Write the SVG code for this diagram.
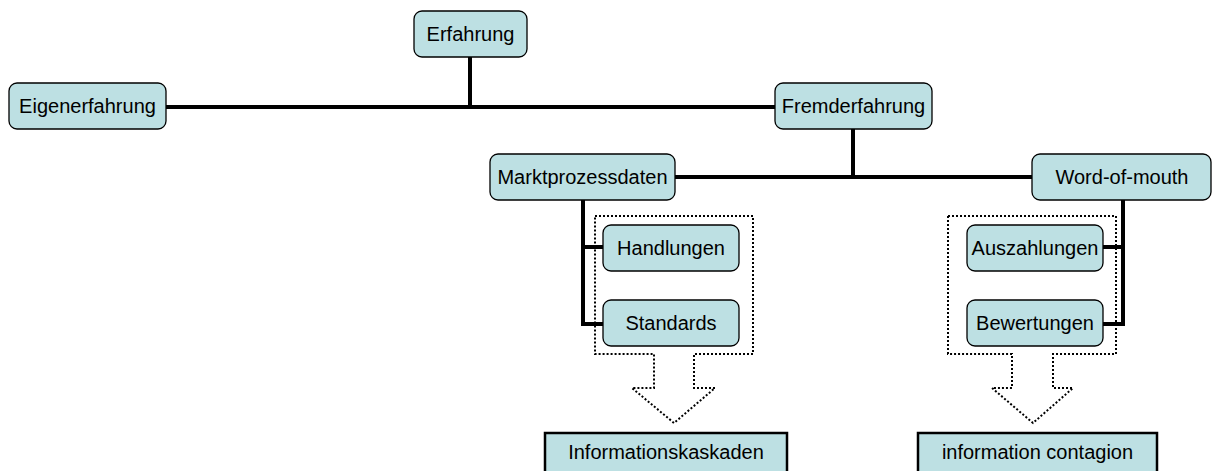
<svg xmlns="http://www.w3.org/2000/svg" width="1214" height="471" viewBox="0 0 1214 471">
<style>
.n rect{fill:#bde0e3;stroke:#000;stroke-width:1.3}
.b rect{fill:#bde0e3;stroke:#000;stroke-width:2.5}
text{font-family:"Liberation Sans",Arial,sans-serif;font-size:20px;fill:#000;text-anchor:middle}
.c line{stroke:#000;stroke-width:4;stroke-linecap:butt}
.d{fill:none;stroke:#000;stroke-width:2;stroke-dasharray:2 2}
</style>
<rect width="1214" height="471" fill="#fff"/>
<g id="connectors" class="c">
<line x1="166" y1="107" x2="775" y2="107"/>
<line x1="470" y1="57" x2="470" y2="109"/>
<line x1="853" y1="129" x2="853" y2="179"/>
<line x1="675" y1="177" x2="1032" y2="177"/>
<line x1="583" y1="200" x2="583" y2="326"/>
<line x1="581" y1="247" x2="603" y2="247"/>
<line x1="581" y1="324" x2="603" y2="324"/>
<line x1="1123" y1="200" x2="1123" y2="326"/>
<line x1="1103" y1="247" x2="1125" y2="247"/>
<line x1="1103" y1="324" x2="1125" y2="324"/>
</g>
<g id="group-left-arrow">
<path class="d" d="M595,216 H753 V354 H694 V388 H715 L674,423 L632,388 H654 V354 H595 Z"/>
</g>
<g id="group-right-arrow">
<path class="d" d="M948,216 H1116 V354 H1053 V388 H1073 L1033,423 L992,388 H1012 V354 H948 Z"/>
</g>
<g id="erfahrung" class="n"><rect x="414" y="11" width="113" height="46" rx="8"/><text x="470.5" y="41">Erfahrung</text></g>
<g id="eigenerfahrung" class="n"><rect x="9" y="83" width="157" height="46" rx="8"/><text x="87.5" y="113">Eigenerfahrung</text></g>
<g id="fremderfahrung" class="n"><rect x="775" y="83" width="157" height="46" rx="8"/><text x="853.5" y="113">Fremderfahrung</text></g>
<g id="marktprozessdaten" class="n"><rect x="490" y="154" width="185" height="46" rx="8"/><text x="582.5" y="184">Marktprozessdaten</text></g>
<g id="word-of-mouth" class="n"><rect x="1032" y="154" width="179" height="46" rx="8"/><text x="1122" y="184">Word-of-mouth</text></g>
<g id="handlungen" class="n"><rect x="603" y="225" width="136" height="46" rx="8"/><text x="671" y="255">Handlungen</text></g>
<g id="standards" class="n"><rect x="603" y="300" width="136" height="46" rx="8"/><text x="671" y="330">Standards</text></g>
<g id="auszahlungen" class="n"><rect x="967" y="225" width="136" height="46" rx="8"/><text x="1035" y="255">Auszahlungen</text></g>
<g id="bewertungen" class="n"><rect x="967" y="300" width="136" height="46" rx="8"/><text x="1035" y="330">Bewertungen</text></g>
<g id="informationskaskaden" class="b"><rect x="545" y="433" width="242" height="50"/><text x="666" y="459">Informationskaskaden</text></g>
<g id="information-contagion" class="b"><rect x="918" y="433" width="239" height="50"/><text x="1037.5" y="459">information contagion</text></g>
</svg>
